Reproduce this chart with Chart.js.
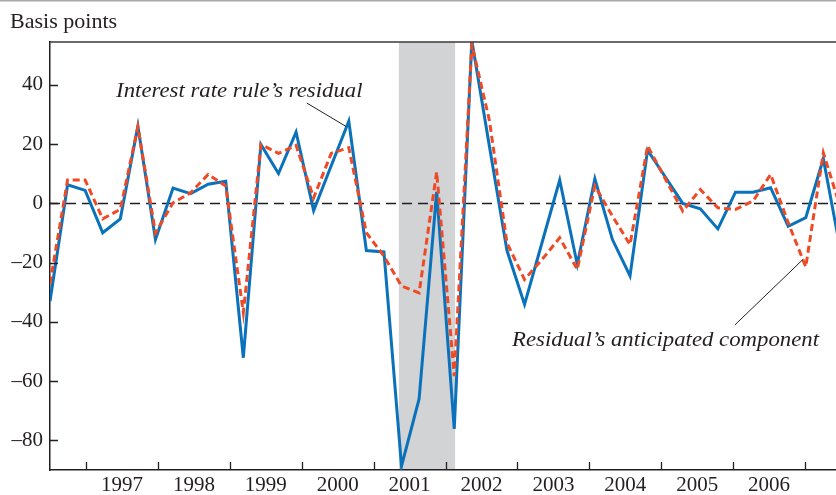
<!DOCTYPE html>
<html>
<head>
<meta charset="utf-8">
<script src="https://cdn.jsdelivr.net/npm/chart.js@4.4.1/dist/chart.umd.min.js"></script>
<style>
  html, body { margin: 0; padding: 0; background: #fff; }
  #wrap { width: 836px; height: 495px; }
</style>
</head>
<body>
<div id="wrap"><canvas id="chart" width="836" height="495"></canvas></div>
<script>
// Quarterly observations, 1996Q1 - 2007Q2 (the last one runs off the right edge)
const quarters = [
  '1996Q1','1996Q2','1996Q3','1996Q4','1997Q1','1997Q2','1997Q3','1997Q4',
  '1998Q1','1998Q2','1998Q3','1998Q4','1999Q1','1999Q2','1999Q3','1999Q4',
  '2000Q1','2000Q2','2000Q3','2000Q4','2001Q1','2001Q2','2001Q3','2001Q4',
  '2002Q1','2002Q2','2002Q3','2002Q4','2003Q1','2003Q2','2003Q3','2003Q4',
  '2004Q1','2004Q2','2004Q3','2004Q4','2005Q1','2005Q2','2005Q3','2005Q4',
  '2006Q1','2006Q2','2006Q3','2006Q4','2007Q1','2007Q2'
];

// Interest rate rule's residual (basis points)
const residual = [
  -33.0, 6.3, 4.4, -9.9, -5.2, 26.1, -12.2, 5.2,
  3.3, 6.5, 7.5, -52.1, 19.9, 10.1, 24.1, -2.4,
  12.7, 27.8, -15.9, -16.4, -88.7, -66.0, 3.9, -76.1,
  55.0, 19.3, -15.9, -34.1, -13.1, 7.9, -20.6, 8.3,
  -12.2, -24.5, 18.0, 9.0, 0.0, -1.8, -8.6, 3.8,
  3.8, 5.3, -7.7, -4.8, 15.1, -16.6
];

// Residual's anticipated component (basis points)
const anticipated = [
  -27.0, 7.9, 7.9, -5.2, -2.0, 25.9, -10.0, 0.2,
  3.6, 9.8, 5.9, -36.9, 19.9, 16.9, 19.6, 1.9,
  16.9, 18.8, -9.9, -17.8, -27.9, -30.2, 10.6, -58.3,
  53.7, 28.0, -13.3, -25.7, -18.9, -11.6, -22.3, 5.9,
  -4.3, -13.9, 19.4, 8.4, -2.6, 4.7, -1.5, -2.0,
  0.8, 9.8, -6.5, -21.4, 17.1, -2.0
];

const yTicks = [-80, -60, -40, -20, 0, 20, 40];
const yearLabels = ['1997', '1998', '1999', '2000', '2001', '2002', '2003', '2004', '2005', '2006'];
const yearTicks = [1997, 1998, 1999, 2000, 2001, 2002, 2003, 2004, 2005, 2006, 2007];
const recessionQuarters = ['2001Q1', '2001Q4'];

// layout constants
const INK = '#231f20';
const SERIF = "'Liberation Serif', 'Times New Roman', serif";
const X_MAX = 44.72;          // visible quarters
const YEAR_MIN = 1996.498;    // year scale at the left / right edge
const YEAR_MAX = 2007.431;
const recessionStart = quarters.indexOf(recessionQuarters[0]) - 0.15;
const recessionEnd = quarters.indexOf(recessionQuarters[1]) + 0.05;

const notes = [
  { text: 'Interest rate rule\u2019s residual', at: [3.76, 36.0], from: [14.61, 33.9], to: [16.84, 26.0] },
  { text: 'Residual\u2019s anticipated component', at: [26.29, -48.1], from: [38.97, -41.0], to: [42.86, -18.8] }
];

const toPoints = arr => arr.map((v, i) => ({ x: i, y: v }));

// the print face is a little wider than Liberation Serif, so stretch free text slightly
function wideText(ctx, text, px, py, stretch) {
  ctx.save();
  ctx.translate(px, py);
  ctx.scale(stretch, 1);
  ctx.fillText(text, 0, 0);
  ctx.restore();
}

const decorations = {
  id: 'decorations',
  beforeDraw(chart) {
    const { ctx, chartArea: a, scales: { x, y } } = chart;
    ctx.save();
    // recession band
    const x0 = x.getPixelForValue(recessionStart);
    const x1 = x.getPixelForValue(recessionEnd);
    ctx.fillStyle = '#d1d3d4';
    ctx.fillRect(x0, a.top, x1 - x0, a.bottom - a.top);
    // zero line
    const y0 = Math.round(y.getPixelForValue(0)) + 0.5;
    ctx.strokeStyle = INK;
    ctx.lineWidth = 1.3;
    ctx.setLineDash([10, 6]);
    ctx.beginPath();
    ctx.moveTo(a.left, y0);
    ctx.lineTo(a.right, y0);
    ctx.stroke();
    ctx.restore();
  },
  afterDraw(chart) {
    const { ctx, chartArea: a, scales: { x, y, year } } = chart;
    ctx.save();
    // outer rule at the very top
    ctx.strokeStyle = '#a7a9ac';
    ctx.lineWidth = 1.5;
    ctx.beginPath();
    ctx.moveTo(0, 0.75);
    ctx.lineTo(chart.width, 0.75);
    ctx.stroke();
    // top frame of the plot
    ctx.strokeStyle = '#3a3a3a';
    ctx.lineWidth = 1.6;
    ctx.beginPath();
    ctx.moveTo(a.left, a.top);
    ctx.lineTo(a.right, a.top);
    ctx.stroke();
    // inward tick marks
    ctx.strokeStyle = INK;
    ctx.lineWidth = 1.3;
    ctx.beginPath();
    yTicks.forEach(v => {
      const py = Math.round(y.getPixelForValue(v)) + 0.5;
      ctx.moveTo(a.left, py);
      ctx.lineTo(a.left + 8, py);
    });
    yearTicks.forEach(t => {
      const px = Math.round(year.getPixelForValue(t)) + 0.5;
      if (px > a.right) return;
      ctx.moveTo(px, a.bottom);
      ctx.lineTo(px, a.bottom - 8);
    });
    ctx.stroke();
    // unit label
    ctx.fillStyle = INK;
    ctx.font = '21px ' + SERIF;
    ctx.textBaseline = 'alphabetic';
    wideText(ctx, 'Basis points', 10, 28, 1.05);
    // annotations
    ctx.font = 'italic 22px ' + SERIF;
    ctx.lineWidth = 1;
    notes.forEach(n => {
      wideText(ctx, n.text, x.getPixelForValue(n.at[0]), y.getPixelForValue(n.at[1]), 1.035);
      ctx.beginPath();
      ctx.moveTo(x.getPixelForValue(n.from[0]), y.getPixelForValue(n.from[1]));
      ctx.lineTo(x.getPixelForValue(n.to[0]), y.getPixelForValue(n.to[1]));
      ctx.stroke();
    });
    ctx.restore();
  }
};

new Chart(document.getElementById('chart'), {
  type: 'line',
  data: {
    datasets: [
      {
        label: 'Residual\u2019s anticipated component',
        data: toPoints(anticipated),
        xAxisID: 'x',
        borderColor: '#ef4a26',
        borderWidth: 3,
        borderDash: [7, 4]
      },
      {
        label: 'Interest rate rule\u2019s residual',
        data: toPoints(residual),
        xAxisID: 'x',
        borderColor: '#0a72bb',
        borderWidth: 3
      }
    ]
  },
  options: {
    responsive: false,
    animation: false,
    devicePixelRatio: 1,
    layout: { padding: { top: 42, right: 0, left: 0, bottom: 0 } },
    plugins: { legend: { display: false }, tooltip: { enabled: false } },
    elements: { point: { radius: 0 }, line: { tension: 0, borderJoinStyle: 'miter' } },
    scales: {
      x: { type: 'linear', display: false, min: 0, max: X_MAX },
      year: {
        type: 'linear',
        axis: 'x',
        position: 'bottom',
        min: YEAR_MIN,
        max: YEAR_MAX,
        grid: { display: false, drawTicks: false },
        border: { display: true, color: INK, width: 1.5 },
        afterBuildTicks: s => { s.ticks = yearLabels.map(l => ({ value: Number(l) + 0.5 })); },
        afterFit: s => { s.height = 25; },
        ticks: {
          autoSkip: false,
          maxRotation: 0,
          padding: 3,
          color: INK,
          font: { family: SERIF, size: 21 },
          callback: (v, i) => yearLabels[i]
        }
      },
      y: {
        type: 'linear',
        min: -90,
        max: 54.5,
        grid: { display: false, drawTicks: false },
        border: { display: true, color: INK, width: 1.5 },
        afterBuildTicks: s => { s.ticks = yTicks.map(v => ({ value: v })); },
        afterFit: s => { s.width = 50; },
        ticks: {
          padding: 7,
          color: INK,
          font: { family: SERIF, size: 21 },
          callback: v => (v < 0 ? '\u2013' + Math.abs(v) : String(v))
        }
      }
    }
  },
  plugins: [decorations]
});
</script>
</body>
</html>
